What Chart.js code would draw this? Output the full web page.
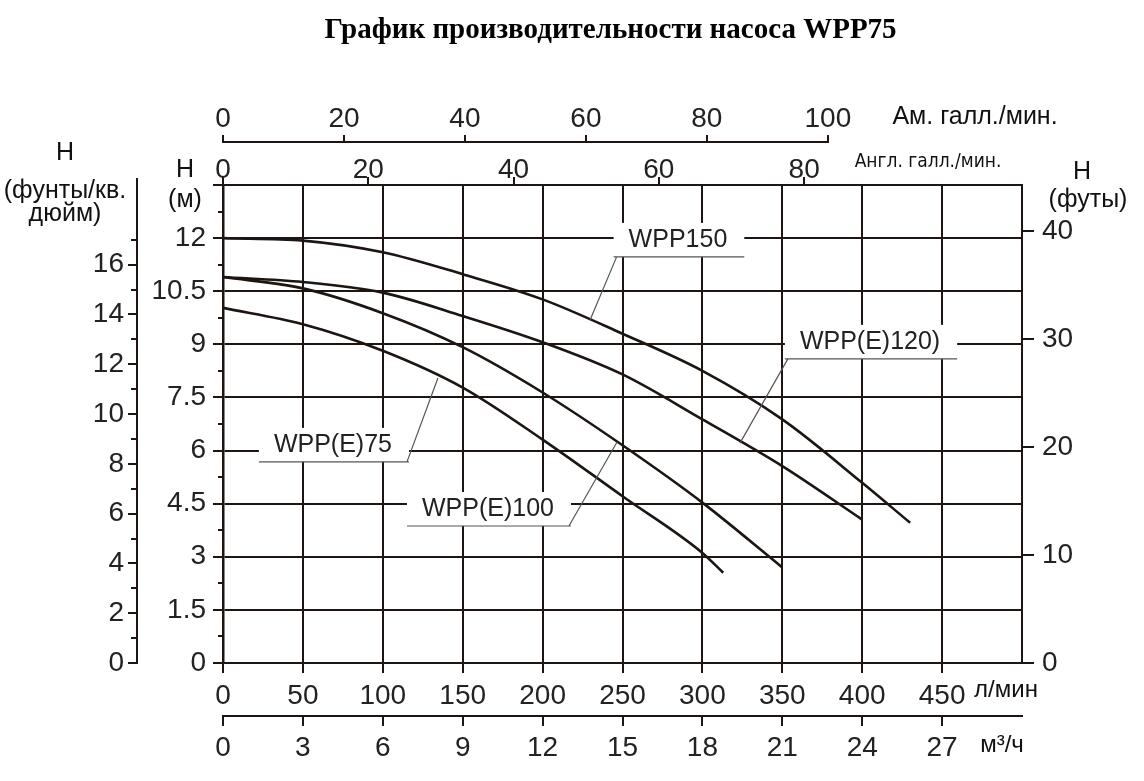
<!DOCTYPE html>
<html lang="ru">
<head>
<meta charset="utf-8">
<title>График производительности насоса WPP75</title>
<script src="https://cdn.jsdelivr.net/npm/chart.js@4.4.1/dist/chart.umd.min.js"></script>
<style>
  html, body { margin: 0; padding: 0; background: #fff; }
  #wrap { width: 1144px; height: 781px; }
</style>
</head>
<body>
<div id="wrap"><canvas id="pump-chart" width="1144" height="781"></canvas></div>
<script>
// curves: flow in l/min, head in m
const flowWPP150 = [0, 50, 100, 150, 200, 250, 300, 350, 400, 430];
const headWPP150 = [12.0, 11.93, 11.6, 10.98, 10.27, 9.3, 8.25, 6.88, 5.09, 3.96];

const flowWPP120 = [0, 50, 100, 150, 200, 250, 300, 350, 400];
const headWPP120 = [10.9, 10.76, 10.46, 9.8, 9.06, 8.15, 6.88, 5.56, 4.05];

const flowWPP100 = [0, 50, 100, 150, 200, 250, 300, 350];
const headWPP100 = [10.9, 10.58, 9.88, 8.92, 7.64, 6.15, 4.53, 2.7];

const flowWPP75 = [0, 50, 100, 150, 200, 250, 300, 313];
const headWPP75 = [10.03, 9.57, 8.82, 7.78, 6.31, 4.71, 3.11, 2.55];

// tick values for all the axes
const lpmTicks = [0, 50, 100, 150, 200, 250, 300, 350, 400, 450];
const m3hTicks = [0, 3, 6, 9, 12, 15, 18, 21, 24, 27];
const usGalTicks = [0, 20, 40, 60, 80, 100];
const ukGalTicks = [0, 20, 40, 60, 80];
const headTicks = [0, 1.5, 3, 4.5, 6, 7.5, 9, 10.5, 12];
const headMinor = [0.75, 2.25, 3.75, 5.25, 6.75, 8.25, 9.75, 11.25, 12.75];
const psiTicks = [0, 2, 4, 6, 8, 10, 12, 14, 16];
const psiMinor = [1, 3, 5, 7, 9, 11, 13, 15, 17];
const feetTicks = [0, 10, 20, 30, 40];

const chartTitle = "График производительности насоса WPP75";

const FLOW_MAX = 500;   // l/min
const HEAD_MAX = 13.5;  // m

const ink = "#1c1511";
const textCol = "#222";
const sans = "'Liberation Sans', Arial, sans-serif";
const tickFont = { family: sans, size: 28, lineHeight: 1 };

function pts(xs, ys) {
  return xs.map((x, i) => ({ x: x, y: ys[i] }));
}

function fixTicks(values) {
  return (scale) => { scale.ticks = values.map(v => ({ value: v })); };
}
function fixWidth(w) { return (scale) => { scale.width = w; }; }
function fixHeight(h) { return (scale) => { scale.height = h; }; }

const curveLabels = [
  { text: "WPP150",     at: [284.7, 11.95], anchor: [229.7, 9.69], from: "left" },
  { text: "WPP(E)120)", at: [404.9, 9.07],  anchor: [323.5, 6.21], from: "left" },
  { text: "WPP(E)75",   at: [68.8, 6.16],   anchor: [134.5, 8.05], from: "right" },
  { text: "WPP(E)100",  at: [165.8, 4.35],  anchor: [246.6, 6.24], from: "right" }
];

const extrasPlugin = {
  id: "extras",
  afterDatasetsDraw(chart) {
    const ctx = chart.ctx;
    const sx = chart.scales.x, sy = chart.scales.y;
    ctx.save();
    ctx.font = "25px " + sans;
    ctx.textAlign = "center";
    ctx.textBaseline = "middle";
    for (const lab of curveLabels) {
      const cx = sx.getPixelForValue(lab.at[0]);
      const cy = sy.getPixelForValue(lab.at[1]);
      const w = ctx.measureText(lab.text).width;
      const left = cx - w / 2 - 15, right = cx + w / 2 + 17;
      const uy = cy + 17;
      ctx.fillStyle = "#fff";
      ctx.fillRect(left, cy - 17, right - left, uy - cy + 17);
      ctx.fillStyle = textCol;
      ctx.fillText(lab.text, cx, cy);
      ctx.strokeStyle = "#555";
      ctx.lineWidth = 1.2;
      ctx.beginPath();
      ctx.moveTo(left, uy);
      ctx.lineTo(right, uy);
      const sxp = lab.from === "left" ? left + 3 : right - 2;
      ctx.moveTo(sxp, uy);
      ctx.lineTo(sx.getPixelForValue(lab.anchor[0]), sy.getPixelForValue(lab.anchor[1]));
      ctx.stroke();
    }
    ctx.restore();
  },
  afterDraw(chart) {
    const ctx = chart.ctx;
    const s = chart.scales;
    const area = chart.chartArea;
    ctx.save();
    ctx.strokeStyle = ink;
    ctx.lineWidth = 2;
    // minor ticks
    ctx.beginPath();
    for (const v of headMinor) {
      const p = Math.round(s.y.getPixelForValue(v));
      ctx.moveTo(s.y.right - 5, p); ctx.lineTo(s.y.right, p);
    }
    const topP = Math.round(s.y.getPixelForValue(HEAD_MAX));
    ctx.moveTo(s.y.right - 10, topP); ctx.lineTo(s.y.right, topP);
    for (const v of psiMinor) {
      const p = Math.round(s.yPsi.getPixelForValue(v));
      ctx.moveTo(s.yPsi.right - 6, p); ctx.lineTo(s.yPsi.right, p);
    }
    // psi axis runs a bit above the plot
    ctx.moveTo(s.yPsi.right, area.top); ctx.lineTo(s.yPsi.right, area.top - 7);
    // US gallons axis line, only as far as its last tick
    const u0 = s.xUS.getPixelForValue(usGalTicks[0]);
    const u1 = s.xUS.getPixelForValue(usGalTicks[usGalTicks.length - 1]);
    ctx.moveTo(u0 - 1, s.xUS.bottom - 1); ctx.lineTo(u1 + 1, s.xUS.bottom - 1);
    ctx.stroke();

    // title
    ctx.fillStyle = "#000";
    ctx.textAlign = "center";
    ctx.textBaseline = "middle";
    ctx.font = "bold 29px 'Liberation Serif', 'Times New Roman', serif";
    ctx.fillText(chartTitle, (area.left + area.right) / 2 - 12, 31);

    // axis titles
    ctx.fillStyle = "#111";
    ctx.font = "25px " + sans;
    const psiX = s.yPsi.right - 72;
    ctx.fillText("H", psiX, area.top - 32);
    ctx.fillText("(фунты/кв.", psiX, area.top + 6);
    ctx.fillText("дюйм)", psiX, area.top + 29);
    const mX = area.left - 38;
    ctx.fillText("H", mX, area.top - 15);
    ctx.fillText("(м)", mX, area.top + 15);
    const ftX = area.right + 60;
    ctx.fillText("H", ftX, area.top - 13);
    ctx.fillText("(футы)", ftX + 6, area.top + 15);
    ctx.fillText("Ам. галл./мин.", area.right - 47, s.xUS.bottom - 26);
    ctx.font = "24px " + sans;
    ctx.fillText("л/мин", area.right - 16, s.x.top + 27);
    ctx.fillText("м³/ч", area.right - 20, s.xM3.top + 29);
    ctx.font = "19px 'Liberation Sans Narrow', 'DejaVu Sans Condensed', " + sans;
    ctx.fillText("Англ. галл./мин.", area.right - 94, area.top - 23);
    ctx.restore();
  }
};

function curve(label, xs, ys) {
  return {
    label: label,
    data: pts(xs, ys),
    borderColor: ink,
    borderWidth: 2.6,
    pointRadius: 0,
    fill: false,
    cubicInterpolationMode: "monotone",
    xAxisID: "x",
    yAxisID: "y"
  };
}

const gridMain = { color: ink, lineWidth: 2, tickLength: 10, tickColor: ink };

new Chart(document.getElementById("pump-chart"), {
  type: "line",
  data: {
    datasets: [
      curve("WPP150", flowWPP150, headWPP150),
      curve("WPP(E)120", flowWPP120, headWPP120),
      curve("WPP(E)100", flowWPP100, headWPP100),
      curve("WPP(E)75", flowWPP75, headWPP75)
    ]
  },
  options: {
    responsive: false,
    animation: false,
    layout: { padding: { top: 60, left: 0, right: 0, bottom: 0 } },
    plugins: {
      legend: { display: false },
      tooltip: { enabled: false },
      title: { display: false }
    },
    scales: {
      x: {
        type: "linear", position: "bottom", weight: 0,
        min: 0, max: FLOW_MAX,
        afterBuildTicks: fixTicks(lpmTicks),
        afterFit: fixHeight(53),
        grid: gridMain,
        border: { display: true, color: ink, width: 2 },
        ticks: { font: tickFont, color: textCol, padding: 9, maxRotation: 0, callback: v => String(v) }
      },
      xM3: {
        type: "linear", position: "bottom", weight: 1,
        min: 0, max: FLOW_MAX * 0.06,
        afterBuildTicks: fixTicks(m3hTicks),
        afterFit: fixHeight(65),
        grid: { drawOnChartArea: false, color: ink, lineWidth: 2, tickLength: 10 },
        border: { display: true, color: ink, width: 2 },
        ticks: { font: tickFont, color: textCol, padding: 8, maxRotation: 0, callback: v => String(v) }
      },
      xUK: {
        type: "linear", position: "top", weight: 0,
        min: 0, max: FLOW_MAX / 4.546,
        afterBuildTicks: fixTicks(ukGalTicks),
        afterFit: fixHeight(42),
        grid: { drawOnChartArea: false, color: ink, lineWidth: 2, tickLength: 8 },
        border: { display: true, color: ink, width: 2 },
        ticks: { font: tickFont, color: textCol, padding: -7, maxRotation: 0, callback: v => String(v) }
      },
      xUS: {
        type: "linear", position: "top", weight: 1,
        min: 0, max: FLOW_MAX / 3.785,
        afterBuildTicks: fixTicks(usGalTicks),
        afterFit: fixHeight(83),
        grid: { drawOnChartArea: false, color: ink, lineWidth: 2, tickLength: 8 },
        border: { display: false },
        ticks: { font: tickFont, color: textCol, padding: 2, maxRotation: 0, callback: v => String(v) }
      },
      y: {
        type: "linear", position: "left", weight: 0,
        min: 0, max: HEAD_MAX,
        afterBuildTicks: fixTicks(headTicks),
        afterFit: fixWidth(86),
        grid: gridMain,
        border: { display: true, color: ink, width: 2.5 },
        ticks: { font: tickFont, color: textCol, padding: 7, callback: v => String(v) }
      },
      yPsi: {
        type: "linear", position: "left", weight: 1,
        min: 0, max: HEAD_MAX * 1.422,
        afterBuildTicks: fixTicks(psiTicks),
        afterFit: fixWidth(137),
        grid: { drawOnChartArea: false, color: ink, lineWidth: 2, tickLength: 9 },
        border: { display: true, color: ink, width: 2 },
        ticks: { font: tickFont, color: textCol, padding: 4, callback: v => String(v) }
      },
      yFt: {
        type: "linear", position: "right", weight: 0,
        min: 0, max: HEAD_MAX * 3.2808,
        afterBuildTicks: fixTicks(feetTicks),
        afterFit: fixWidth(122),
        grid: { drawOnChartArea: false, color: ink, lineWidth: 2, tickLength: 12 },
        border: { display: true, color: ink, width: 2 },
        ticks: { font: tickFont, color: textCol, padding: 8, callback: v => String(v) }
      }
    }
  },
  plugins: [extrasPlugin]
});
</script>
</body>
</html>
